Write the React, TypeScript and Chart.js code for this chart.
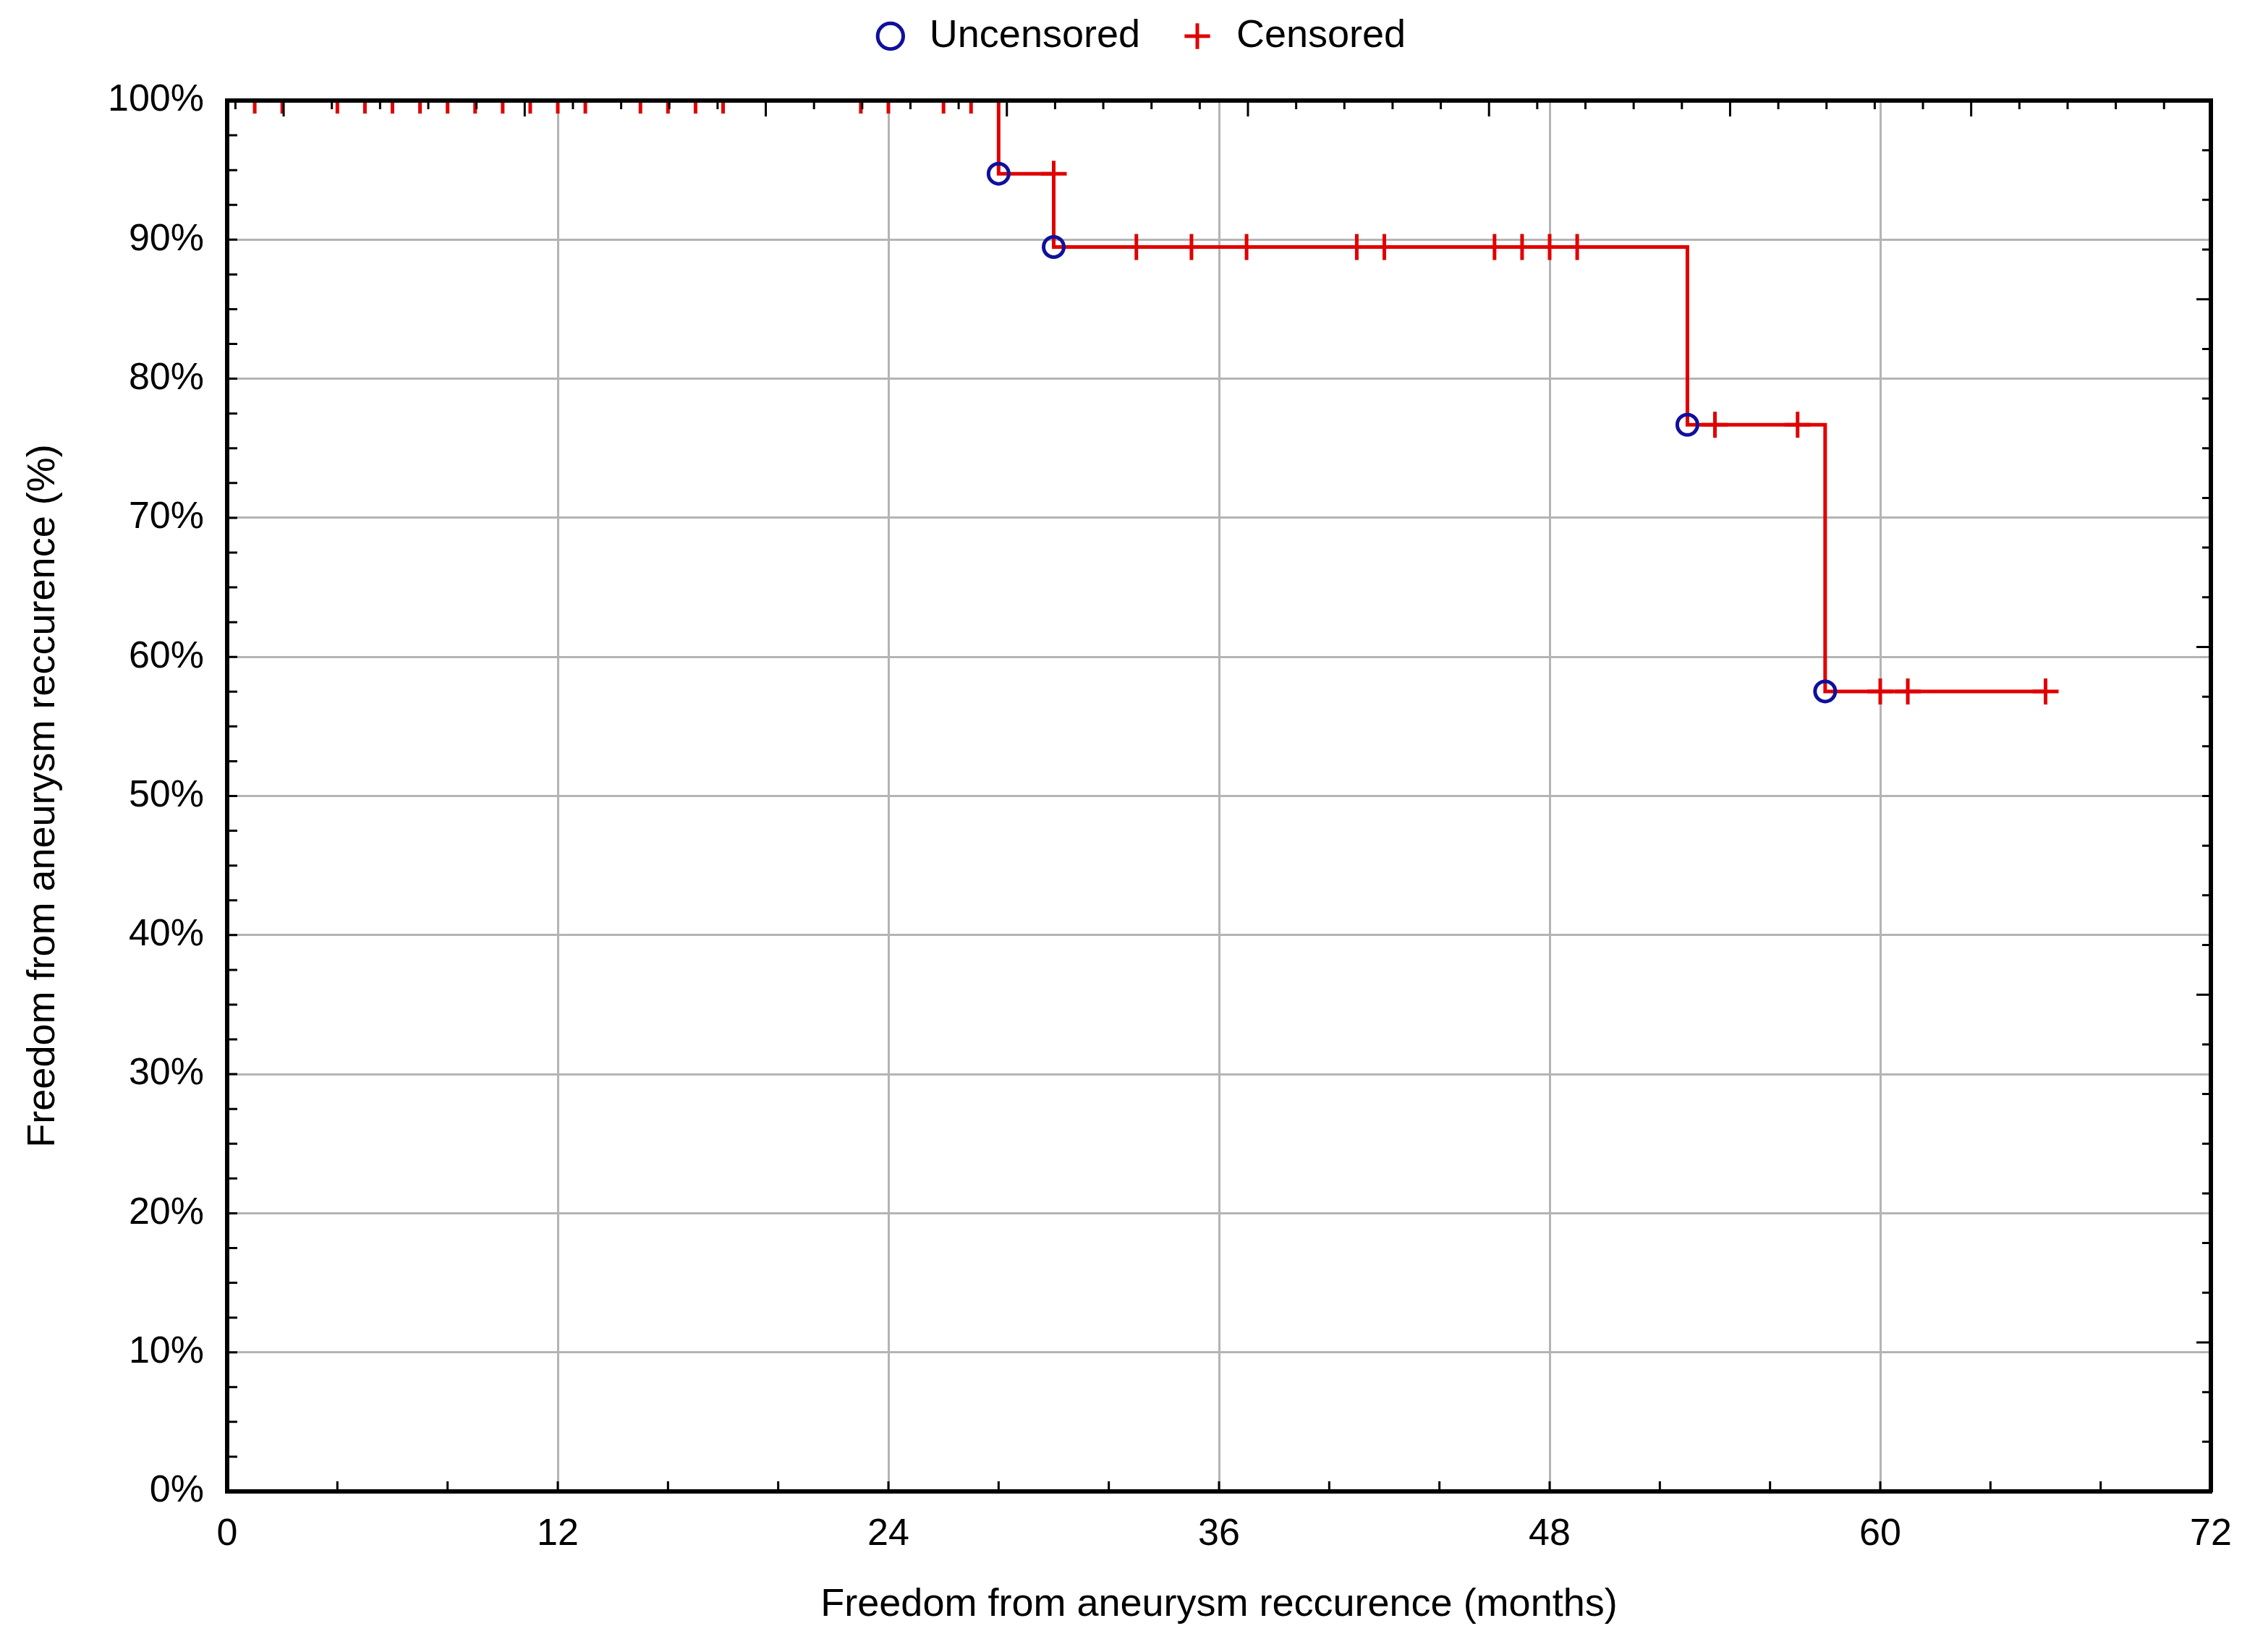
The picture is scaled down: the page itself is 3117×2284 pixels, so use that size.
import React, { useEffect, useRef } from 'react';
import { Chart, registerables } from 'chart.js';

Chart.register(...registerables);

// ---- data ----
const X_TICKS = [0, 12, 24, 36, 48, 60, 72];
const Y_TICKS = [0, 10, 20, 30, 40, 50, 60, 70, 80, 90, 100];

// Kaplan-Meier curve (step changes)
const CURVE_MONTHS = [0, 28, 30, 53, 58, 66];
const CURVE_SURVIVAL = [100, 94.74, 89.47, 76.69, 57.52, 57.52];

// Uncensored (events)
const EVENT_MONTHS = [28, 30, 53, 58];
const EVENT_SURVIVAL = [94.74, 89.47, 76.69, 57.52];

// Censored observations
const CENSORED_MONTHS = [
  1, 2, 4, 5, 6, 7, 8, 9, 10, 11, 12, 13, 15, 16, 17, 18, 23, 24, 26, 27,
  30,
  33, 35, 37, 41, 42, 46, 47, 48, 49,
  54, 57,
  60, 61, 66,
];
const CENSORED_SURVIVAL = [
  100, 100, 100, 100, 100, 100, 100, 100, 100, 100, 100, 100, 100, 100, 100, 100, 100, 100, 100, 100,
  94.74,
  89.47, 89.47, 89.47, 89.47, 89.47, 89.47, 89.47, 89.47, 89.47,
  76.69, 76.69,
  57.52, 57.52, 57.52,
];

// frame minor tick spacing (decoration of the original plot)
const X_MINOR_STEP = 4;
const Y_MINOR_STEP = 2.5;
const TOP_TICK_START = 0.3;
const TOP_TICK_STEP = 1.75;
const RIGHT_TICK_STEP = 100 / 28;

const FONT = '"Liberation Sans", Arial, Helvetica, sans-serif';
const RED = '#e00000';
const BLUE = '#10109c';

const frameTicks = {
  id: 'frameTicks',
  afterDraw(chart: any) {
    const { ctx, chartArea: a, scales } = chart;
    const x = scales.x;
    const y = scales.y;
    ctx.save();
    ctx.strokeStyle = '#000';
    ctx.lineWidth = 3;
    ctx.beginPath();
    for (let v = 0; v <= 72; v += X_MINOR_STEP) {
      const px = x.getPixelForValue(v);
      ctx.moveTo(px, a.bottom);
      ctx.lineTo(px, a.bottom - 14);
    }
    for (let v = 0; v <= 100; v += Y_MINOR_STEP) {
      const py = y.getPixelForValue(v);
      ctx.moveTo(a.left, py);
      ctx.lineTo(a.left + 14, py);
    }
    let k = 0;
    for (let v = TOP_TICK_START; v <= 72; v += TOP_TICK_STEP, k++) {
      const px = x.getPixelForValue(v);
      ctx.moveTo(px, a.top);
      ctx.lineTo(px, a.top + (k % 5 === 1 ? 22 : 12));
    }
    k = 0;
    for (let v = 100; v >= 0; v -= RIGHT_TICK_STEP, k++) {
      const py = y.getPixelForValue(v);
      ctx.moveTo(a.right, py);
      ctx.lineTo(a.right - (k % 7 === 4 ? 20 : 12), py);
    }
    ctx.stroke();
    ctx.restore();
  },
};

export default function App() {
  const ref = useRef<HTMLCanvasElement>(null);

  useEffect(() => {
    if (!ref.current) return;
    Chart.defaults.font.family = FONT;
    Chart.defaults.color = '#000';

    const chart = new Chart(ref.current, {
      type: 'scatter',
      data: {
        datasets: [
          {
            type: 'line',
            label: 'Survival',
            data: CURVE_MONTHS.map((m, i) => ({ x: m, y: CURVE_SURVIVAL[i] })),
            stepped: true,
            borderColor: RED,
            borderWidth: 5,
            pointRadius: 0,
            fill: false,
            order: 3,
          },
          {
            label: 'Uncensored',
            data: EVENT_MONTHS.map((m, i) => ({ x: m, y: EVENT_SURVIVAL[i] })),
            pointStyle: 'circle',
            pointRadius: 14,
            pointBorderWidth: 5,
            borderWidth: 5,
            borderColor: BLUE,
            pointBorderColor: BLUE,
            backgroundColor: 'rgba(0,0,0,0)',
            pointBackgroundColor: 'rgba(0,0,0,0)',
            order: 1,
          },
          {
            label: 'Censored',
            data: CENSORED_MONTHS.map((m, i) => ({ x: m, y: CENSORED_SURVIVAL[i] })),
            pointStyle: 'cross',
            pointRadius: 18,
            pointBorderWidth: 5,
            borderWidth: 5,
            borderColor: RED,
            pointBorderColor: RED,
            backgroundColor: RED,
            pointBackgroundColor: RED,
            clip: 0,
            order: 2,
          },
        ],
      },
      options: {
        animation: false,
        responsive: false,
        devicePixelRatio: 1,
        layout: { padding: { left: 30, top: -29, right: 0, bottom: 0 } },
        plugins: {
          tooltip: { enabled: false },
          legend: {
            display: true,
            position: 'top',
            labels: {
              usePointStyle: true,
              boxWidth: 54,
              boxHeight: 25,
              padding: 52,
              font: { size: 54, family: FONT },
              color: '#000',
              filter: (item: any) => item.text !== 'Survival',
            },
          },
        },
        scales: {
          x: {
            type: 'linear',
            position: 'bottom',
            min: 0,
            max: 72,
            afterBuildTicks: (s: any) => {
              s.ticks = X_TICKS.map((v) => ({ value: v }));
            },
            afterFit: (s: any) => {
              s.height = 222;
            },
            ticks: {
              font: { size: 52, family: FONT },
              color: '#000',
              padding: 28,
              maxRotation: 0,
              autoSkip: false,
            },
            grid: { color: '#b4b4b4', lineWidth: 3, drawTicks: false },
            border: { display: true, color: '#000', width: 6, z: 1 },
            title: {
              display: true,
              text: 'Freedom from aneurysm reccurence (months)',
              font: { size: 54, family: FONT, lineHeight: 1 },
              color: '#000',
              padding: { top: 0, bottom: 38 },
            },
          },
          y: {
            type: 'linear',
            position: 'left',
            min: 0,
            max: 100,
            afterBuildTicks: (s: any) => {
              s.ticks = Y_TICKS.map((v) => ({ value: v }));
            },
            afterFit: (s: any) => {
              s.width = 284;
            },
            ticks: {
              font: { size: 52, family: FONT },
              color: '#000',
              padding: 32,
              callback: (v: any) => `${v}%`,
            },
            grid: { color: '#b4b4b4', lineWidth: 3, drawTicks: false },
            border: { display: true, color: '#000', width: 6, z: 1 },
            title: {
              display: true,
              text: 'Freedom from aneurysm reccurence (%)',
              font: { size: 54, family: FONT, lineHeight: 1 },
              color: '#000',
              padding: { top: 3, bottom: 0 },
            },
          },
          x2: {
            type: 'linear',
            position: 'top',
            min: 0,
            max: 72,
            afterFit: (s: any) => {
              s.height = 52;
            },
            ticks: { display: false },
            grid: { display: false, drawTicks: false },
            border: { display: true, color: '#000', width: 6, z: 1 },
          },
          y2: {
            type: 'linear',
            position: 'right',
            min: 0,
            max: 100,
            afterFit: (s: any) => {
              s.width = 61;
            },
            ticks: { display: false },
            grid: { display: false, drawTicks: false },
            border: { display: true, color: '#000', width: 6, z: 1 },
          },
        },
      },
      plugins: [frameTicks],
    } as any);

    return () => chart.destroy();
  }, []);

  return (
    <div style={{ position: 'absolute', left: 0, top: 0, width: 3117, height: 2284, background: '#fff' }}>
      <canvas ref={ref} width={3117} height={2284} style={{ width: 3117, height: 2284, display: 'block' }} />
    </div>
  );
}
